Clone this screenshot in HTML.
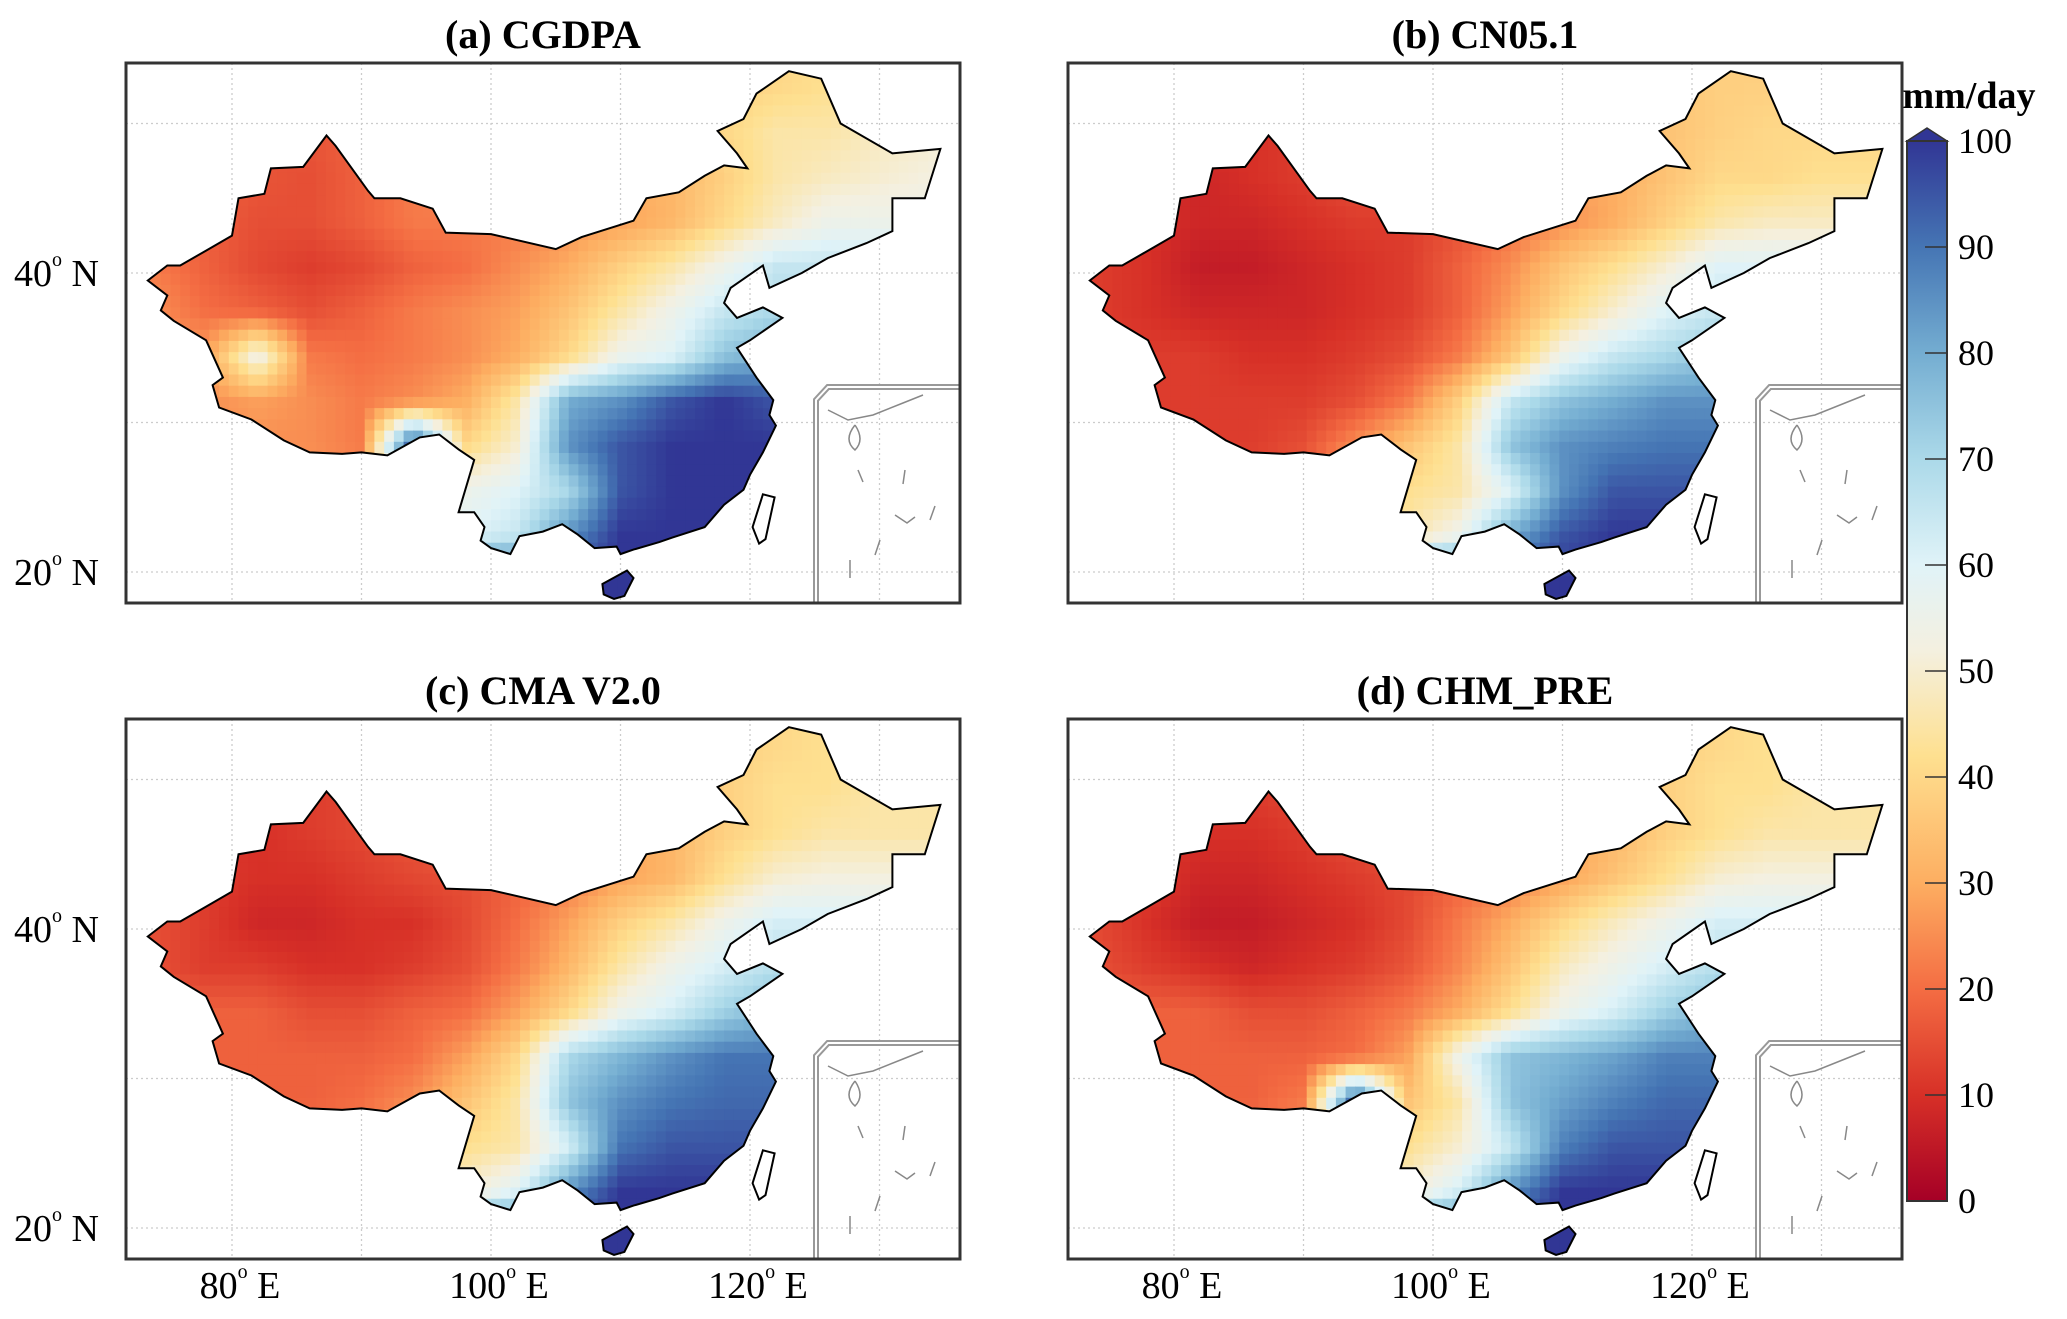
<!DOCTYPE html>
<html><head><meta charset="utf-8"><style>
html,body{margin:0;padding:0;background:#fff;}
svg, svg text{font-family:"Liberation Serif","Times New Roman",serif;}
</style></head><body>
<svg id="fig" width="2067" height="1314" viewBox="0 0 2067 1314" font-family="Liberation Serif, serif">
<defs>
<linearGradient id="cbgrad" x1="0" y1="1" x2="0" y2="0">
<stop offset="0" stop-color="#a50026"/><stop offset="0.1" stop-color="#d73027"/><stop offset="0.2" stop-color="#f46d43"/><stop offset="0.3" stop-color="#fdae61"/><stop offset="0.42" stop-color="#fee090"/><stop offset="0.52" stop-color="#f4f0e0"/><stop offset="0.6" stop-color="#e0f3f8"/><stop offset="0.7" stop-color="#abd9e9"/><stop offset="0.8" stop-color="#74add1"/><stop offset="0.9" stop-color="#4575b4"/><stop offset="1" stop-color="#313695"/>
</linearGradient>
</defs>
<g id="panels"></g>
<g id="colorbar">
<polygon points="1907,141 1927,128 1947,141" fill="#313695" stroke="#333" stroke-width="1.5"/>
<rect x="1907" y="141" width="40" height="1060" fill="url(#cbgrad)" stroke="#333" stroke-width="2"/>
<text x="1969" y="108" font-size="38" font-weight="bold" text-anchor="middle">mm/day</text>
</g>
</svg>
<script>
const cbTicks=[0,10,20,30,40,50,60,70,80,90,100];
const gridLats=[52.5,49.5,46.5,43.5,40.5,37.5,34.5,31.5,28.5,25.5,22.5,19.5];
const gridLons=[74,78,82,86,90,94,98,102,106,110,114,118,122,126,130,134];
const panelTitles=["(a) CGDPA","(b) CN05.1","(c) CMA V2.0","(d) CHM_PRE"];
const valuesA=[
[20,20,18,18,20,22,25,28,30,32,35,38,40,42,42,42],
[18,18,16,16,18,22,25,28,30,32,35,40,45,45,48,50],
[18,18,16,15,18,22,25,25,28,30,32,38,45,48,50,52],
[20,18,15,15,18,22,22,22,25,28,32,40,48,55,55,55],
[22,18,14,12,14,18,20,25,30,38,45,55,65,65,65,65],
[25,20,18,15,18,22,25,28,35,45,55,65,70,70,70,70],
[25,28,55,22,20,22,25,30,40,55,60,75,80,80,80,80],
[25,25,28,25,22,25,30,45,80,85,95,100,95,95,95,95],
[25,25,25,25,22,100,40,50,85,95,100,100,100,100,100,100],
[30,30,30,30,30,45,55,60,70,95,100,100,100,100,100,100],
[35,35,35,35,35,50,60,65,85,100,100,100,100,100,100,100],
[100,100,100,100,100,100,100,100,100,100,100,100,100,100,100,100]];
const valuesB=[
[15,15,12,12,14,18,22,25,28,30,32,35,38,38,38,38],
[12,12,10,10,12,15,18,22,25,28,30,35,38,40,40,40],
[12,10,8,10,12,15,15,18,22,28,30,35,40,40,42,42],
[12,10,8,8,10,12,12,15,20,25,30,38,45,48,48,48],
[12,10,6,6,8,10,12,18,25,35,42,50,60,60,60,60],
[12,10,8,8,8,10,12,18,28,40,50,60,65,65,65,65],
[12,12,12,10,10,12,15,22,35,55,65,70,75,75,75,75],
[12,12,12,12,12,15,22,38,65,75,80,85,85,85,85,85],
[12,12,12,12,15,25,35,45,75,85,88,90,90,90,90,90],
[20,20,20,20,20,35,42,45,60,85,95,95,95,95,95,95],
[30,30,30,30,30,40,45,55,80,95,100,100,100,100,100,100],
[100,100,100,100,100,100,100,100,100,100,100,100,100,100,100,100]];
const valuesC=[
[18,18,15,15,15,18,22,25,28,32,35,38,40,42,42,42],
[15,15,12,12,14,18,22,25,28,30,32,38,42,42,45,45],
[15,12,10,12,14,16,20,22,25,28,32,38,42,45,45,45],
[15,12,10,10,12,14,15,18,22,28,32,42,50,52,52,52],
[15,12,8,8,10,10,14,20,28,38,45,55,62,62,62,62],
[15,12,12,10,10,12,15,22,32,45,55,62,68,68,68,68],
[18,18,18,15,15,18,20,28,40,55,62,72,78,78,78,78],
[18,18,18,18,18,20,28,40,70,78,85,90,90,90,90,90],
[18,18,18,18,20,25,35,45,75,85,90,92,92,92,92,92],
[25,25,25,25,25,35,42,45,62,90,95,95,95,95,95,95],
[35,35,35,35,35,45,50,60,85,100,100,100,100,100,100,100],
[100,100,100,100,100,100,100,100,100,100,100,100,100,100,100,100]];
const valuesD=[
[20,20,16,16,18,20,25,28,30,32,35,38,40,42,42,42],
[15,15,12,12,14,18,22,25,28,30,34,38,42,42,45,45],
[14,12,10,10,12,15,18,20,25,28,32,38,42,45,45,45],
[14,12,8,8,10,12,14,18,22,28,35,42,50,52,52,52],
[14,10,6,6,8,10,14,22,30,40,48,55,62,62,62,62],
[15,12,10,8,10,12,16,24,35,48,55,62,68,68,68,68],
[18,18,18,15,15,18,22,30,42,55,62,72,78,78,78,78],
[18,18,18,18,18,20,28,55,75,78,82,88,88,88,88,88],
[18,18,18,18,22,100,35,45,75,82,88,92,92,92,92,92],
[25,25,25,25,25,35,42,50,65,88,95,95,95,95,95,95],
[35,35,35,35,35,45,50,62,85,100,100,100,100,100,100,100],
[100,100,100,100,100,100,100,100,100,100,100,100,100,100,100,100]];
const lonTicks=[80,100,120];
const latTicks=[40,20];

const china=[[73.5,39.5],[75,40.5],[76,40.5],[78,41.5],[80,42.5],[80.5,45],[82.5,45.3],[83,47],[85.5,47.1],[87.3,49.2],[88,48.5],[90.5,45.5],[91,45],[93,45],[95.5,44.3],[96.5,42.7],[100,42.6],[105,41.6],[107,42.4],[111,43.5],[112,45],[114.5,45.4],[116.5,46.5],[118,47.2],[119.8,47],[119,48],[117.5,49.5],[119.5,50.3],[120.5,52],[123,53.5],[125.5,53],[127,50],[131,48],[134.7,48.3],[133.5,45],[131,45],[131,42.8],[129,42],[126,41],[124,40],[121.5,39],[121,40.5],[118.5,39],[118,38],[119,37],[121,37.7],[122.5,37],[120,35.5],[119,35],[120.5,33],[121.8,31.5],[121.5,30.5],[122,29.8],[121,28],[120,26.5],[119.5,25.5],[118,24.5],[116.5,23],[114,22.3],[113,22],[111,21.5],[110,21.2],[109.7,21.7],[108,21.6],[106.7,22.5],[105.5,23.2],[104,22.7],[102.2,22.4],[101.5,21.2],[100,21.6],[99.2,22.1],[99.5,23],[98.7,24],[97.5,24],[98.7,27.5],[97.5,28.2],[96,29.2],[94.5,29],[92,27.8],[90,28],[88.5,27.9],[86,28],[84,28.8],[81.5,30.2],[79,31],[78.5,32.5],[79.3,33],[78,35.5],[75.5,36.8],[74.5,37.5],[75,38.5]];
const hainan=[[108.6,19.2],[110.5,20.1],[111,19.6],[110.3,18.4],[109.5,18.2],[108.7,18.5]];
const taiwan=[[120.2,23],[121,25.2],[121.9,25],[121.2,22.2],[120.7,21.9]];

const NS="http://www.w3.org/2000/svg";
function mk(tag,attrs,parent){const e=document.createElementNS(NS,tag);for(const k in attrs)e.setAttribute(k,attrs[k]);if(parent)parent.appendChild(e);return e;}
const stops=[[0,[165,0,38]],[10,[215,48,39]],[20,[244,109,67]],[30,[253,174,97]],[42,[254,224,144]],[52,[244,240,224]],[60,[224,243,248]],[70,[171,217,233]],[80,[116,173,209]],[90,[69,117,180]],[100,[49,54,149]]];
function color(v){v=Math.max(0,Math.min(100,v));for(let i=1;i<stops.length;i++){if(v<=stops[i][0]){const a=stops[i-1],b=stops[i];const t=(v-a[0])/(b[0]-a[0]);const c=a[1].map((x,j)=>Math.round(x+(b[1][j]-x)*t));return `rgb(${c[0]},${c[1]},${c[2]})`;}}return "rgb(49,54,149)";}
function sample(g,lon,lat){
  let fi=(gridLats[0]-lat)/3; let fj=(lon-gridLons[0])/4;
  fi=Math.max(0,Math.min(gridLats.length-1.001,fi)); fj=Math.max(0,Math.min(gridLons.length-1.001,fj));
  const i=Math.floor(fi),j=Math.floor(fj),ti=fi-i,tj=fj-j;
  return g[i][j]*(1-ti)*(1-tj)+g[i][j+1]*(1-ti)*tj+g[i+1][j]*ti*(1-tj)+g[i+1][j+1]*ti*tj;
}
const panelVals=[valuesA,valuesB,valuesC,valuesD];
const offs=[[0,0],[942,0],[0,656],[942,656]];
const root=document.getElementById('panels');
const defs=document.querySelector('defs');
panelVals.forEach((vals,p)=>{
  const dx=offs[p][0],dy=offs[p][1];
  const X=lon=>dx+232+(lon-80)*12.95;
  const Y=lat=>dy+273-(lat-40)*14.95;
  const pts=arr=>arr.map(q=>X(q[0]).toFixed(1)+","+Y(q[1]).toFixed(1)).join(" ");
  const g=mk('g',{},root);
  
  
  const x0=dx+126,y0=dy+63,w=834,h=540;
  const title=mk('text',{x:x0+w/2,y:dy+48,'font-size':40,'font-weight':'bold','text-anchor':'middle'},g);
  title.textContent=panelTitles[p];
  
  
  for(let lon=80;lon<=130;lon+=10){const l=mk('line',{x1:X(lon),x2:X(lon),y1:y0,y2:y0+h,stroke:'#ccc','stroke-width':1.3,'stroke-dasharray':'2,3'},g);
    
    }
  for(let lat=20;lat<=50;lat+=10){const l=mk('line',{x1:x0,x2:x0+w,y1:Y(lat),y2:Y(lat),stroke:'#ccc','stroke-width':1.3,'stroke-dasharray':'2,3'},g);
    
    }
  const cp=mk('clipPath',{id:'clip'+p},defs);
  mk('polygon',{points:pts(china)},cp);mk('polygon',{points:pts(hainan)},cp);
  const heat=mk('g',{'clip-path':'url(#clip'+p+')'},g);
  
  
  const step=0.75;
  for(let lon=73;lon<135.5;lon+=step){for(let lat=17.5;lat<54;lat+=step){
    const v=sample(vals,lon+step/2,lat+step/2);
    const r=mk('rect',{x:X(lon).toFixed(1),y:Y(lat+step).toFixed(1),width:(step*12.95+0.6).toFixed(1),height:(step*14.95+0.6).toFixed(1),fill:color(v)},heat);
    
    
  }}
  const o1=mk('polygon',{points:pts(china),fill:'none',stroke:'#000','stroke-width':2},g);
  
  
  const o2=mk('polygon',{points:pts(hainan),fill:'none',stroke:'#000','stroke-width':2},g);
  
  
  const o3=mk('polygon',{points:pts(taiwan),fill:'none',stroke:'#000','stroke-width':2},g);
  
  
  const ins=mk('g',{},g);
  
  
  const ip=`${dx+816},${dy+603} ${dx+816},${dy+400} ${dx+828},${dy+387} ${dx+960},${dy+387}`;
  mk('polyline',{points:ip,fill:'none',stroke:'#999','stroke-width':6},ins);
  mk('polyline',{points:ip,fill:'none',stroke:'#fff','stroke-width':2},ins);
  mk('path',{d:`M${dx+828},${dy+410} l20,10 l25,-5 l30,-12 l20,-8 M${dx+855},${dy+425} q-12,15 0,25 q10,-10 0,-25 M${dx+858},${dy+470} l5,12 M${dx+905},${dy+470} l-2,14 M${dx+895},${dy+515} l12,8 l8,-6 M${dx+880},${dy+540} l-5,15 M${dx+930},${dy+520} l5,-14 M${dx+850},${dy+560} l0,18`,fill:'none',stroke:'#888','stroke-width':1.5},ins);
  const fr=mk('rect',{x:x0,y:y0,width:w,height:h,fill:'none',stroke:'#333','stroke-width':3},g);
  
  
  if(p%2===0){latTicks.forEach(lat=>{
    const t=mk('text',{x:14,y:Y(lat)+13,'font-size':38},g);
    t.innerHTML=lat+'<tspan dy="-20" font-size="20">o</tspan><tspan dy="20"> N</tspan>';
    
    
  });}
  if(p>=2){lonTicks.forEach(lon=>{
    const t=mk('text',{x:X(lon)+8,y:dy+642,'font-size':38,'text-anchor':'middle'},g);
    t.innerHTML=lon+'<tspan dy="-20" font-size="20">o</tspan><tspan dy="20"> E</tspan>';
    
    
  });}
});
const cb=document.getElementById('colorbar');
const CY=v=>1201-v*10.6;
cbTicks.forEach(v=>{
  if(v>0&&v<100){const l=mk('line',{x1:1925,x2:1947,y1:CY(v),y2:CY(v),stroke:'#333','stroke-width':1.5},cb);
    
    }
  const t=mk('text',{x:1958,y:CY(v)+12,'font-size':36},cb);
  t.textContent=v;
  
  
});
</script>
</body></html>
